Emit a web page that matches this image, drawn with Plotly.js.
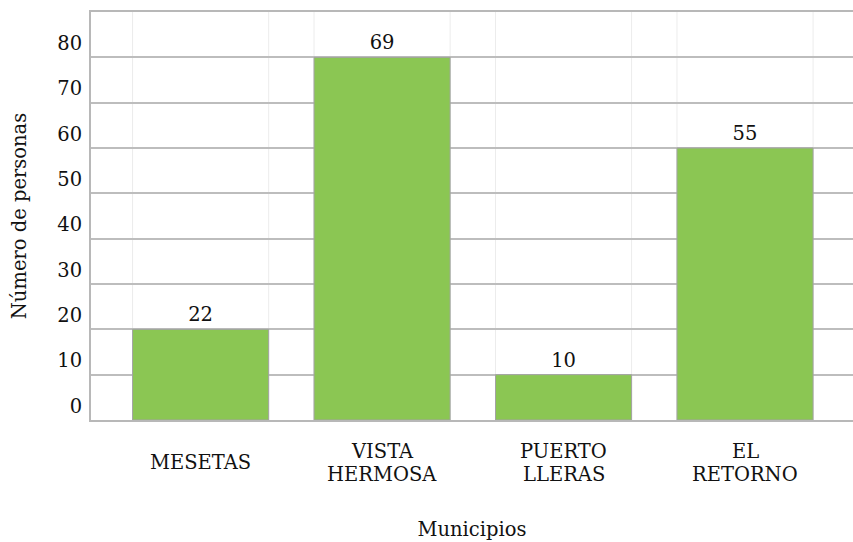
<!DOCTYPE html>
<html>
<head>
<meta charset="utf-8">
<script src="https://cdn.plot.ly/plotly-3.0.1.min.js"></script>
<style>html,body{margin:0;padding:0;background:#fff;}#chart{width:853px;height:542px;}</style>
</head>
<body>
<div id="chart"></div>
<script>
// Data
const municipios = ["MESETAS", "VISTA HERMOSA", "PUERTO LLERAS", "EL RETORNO"];
const tickLines = [["MESETAS"], ["VISTA", "HERMOSA"], ["PUERTO", "LLERAS"], ["EL", "RETORNO"]];
const barHeights = [20, 80, 10, 60];      // drawn bar heights
const barLabels = ["22", "69", "10", "55"]; // value labels printed above bars
const yTicks = [0, 10, 20, 30, 40, 50, 60, 70, 80];

const FONT = "DejaVu Serif";
const FS = 19.5;
const barWidth = 0.75;
const idx = municipios.map((_, i) => i);

const trace = {
  type: "bar",
  x: idx,
  y: barHeights,
  width: barWidth,
  text: barLabels,
  textposition: "outside",
  cliponaxis: false,
  textfont: {family: FONT, size: FS, color: "#111"},
  marker: {color: "#8BC653", line: {color: "#a3a3a3", width: 1}},
  hoverinfo: "skip"
};

const LINE_H = 23;
const annotations = [];
idx.forEach(i => {
  const lines = tickLines[i];
  lines.forEach((t, k) => {
    annotations.push({
      x: i, xref: "x", y: -0.105, yref: "paper",
      yshift: -((k - (lines.length - 1) / 2) * LINE_H),
      text: t, showarrow: false,
      xanchor: "center", yanchor: "middle",
      font: {family: FONT, size: FS, color: "#111"}
    });
  });
});

const shapes = [];
idx.forEach(i => {
  [i - barWidth / 2, i + barWidth / 2].forEach(xv => {
    shapes.push({type: "line", xref: "x", yref: "paper", x0: xv, x1: xv, y0: 0, y1: 1,
      line: {color: "#ececec", width: 1}, layer: "below"});
  });
});

const layout = {
  width: 853, height: 542,
  margin: {l: 91, r: 0, t: 12, b: 122},
  paper_bgcolor: "#fff", plot_bgcolor: "#fff",
  showlegend: false,
  font: {family: FONT, size: FS, color: "#111"},
  xaxis: {
    range: [-0.604, 3.595],
    showticklabels: false,
    ticks: "",
    showgrid: false,
    zeroline: false,
    showline: true, mirror: true, linecolor: "#b8b8b8", linewidth: 2,
    title: {text: "Municipios", font: {family: FONT, size: FS, color: "#111"}, standoff: 101}
  },
  yaxis: {
    range: [0, 90],
    tickvals: yTicks,
    ticktext: yTicks.map(String),
    ticks: "",
    ticklabelshift: -14,
    ticklabelstandoff: 3,
    tickfont: {family: FONT, size: FS, color: "#111"},
    showgrid: true, gridcolor: "#bdbdbd", gridwidth: 2,
    zeroline: false,
    showline: true, linecolor: "#b8b8b8", linewidth: 2,
    title: {text: "Número de personas", font: {family: FONT, size: FS, color: "#111"}, standoff: 25}
  },
  annotations: annotations,
  shapes: shapes
};

Plotly.newPlot("chart", [trace], layout, {displayModeBar: false, staticPlot: true});
</script>
</body>
</html>
